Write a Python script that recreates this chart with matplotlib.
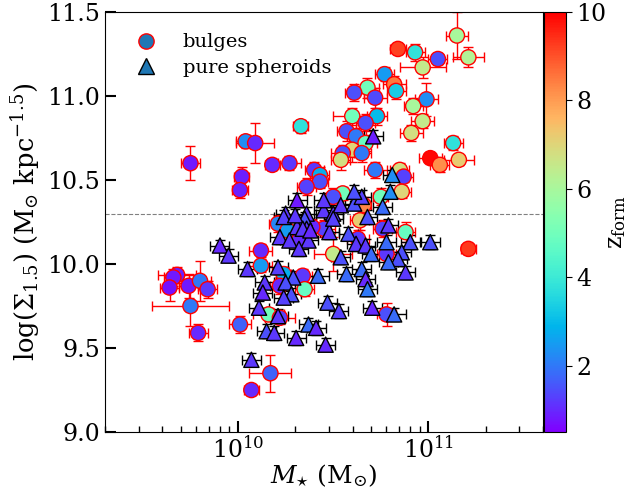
import numpy as np
import matplotlib
matplotlib.use("Agg")
import matplotlib.pyplot as plt
from matplotlib.lines import Line2D

plt.rcParams['font.family'] = ['DejaVu Serif']
plt.rcParams['mathtext.fontset'] = 'dejavuserif'

# bulges: log stellar mass, log Sigma_1.5, z_form, errors (dex)
bulge_logm = np.array([11.15, 10.84, 10.93, 11.05, 11.21, 10.97, 10.77, 10.82, 10.83, 10.68,
                       10.61, 10.72, 10.99, 10.92, 10.73, 10.60, 10.67, 10.97, 10.91, 10.57,
                       10.62, 10.67, 11.13, 10.60, 10.55, 10.65, 11.01, 11.06, 11.16, 10.72,
                       10.85, 10.87, 10.86, 10.75, 10.55, 10.54, 10.33, 10.27, 10.40, 10.43,
                       10.43, 10.36, 10.50, 9.75, 10.04, 10.09, 10.02, 10.01, 10.18, 10.66,
                       10.64, 10.76, 10.88, 11.21, 10.45, 10.39, 10.21, 10.26, 10.32, 10.63,
                       10.50, 10.78, 10.12, 10.12, 10.24, 10.34, 10.35, 10.22, 10.16, 10.22,
                       10.78, 10.01, 9.68, 9.66, 9.64, 9.74, 9.80, 9.84, 9.75, 9.79,
                       10.17, 10.07])
bulge_sig = np.array([11.36, 11.28, 11.26, 11.22, 11.23, 11.17, 11.13, 11.07, 11.03, 11.05,
                      11.02, 10.99, 10.98, 10.94, 10.88, 10.88, 10.84, 10.85, 10.78, 10.79,
                      10.76, 10.72, 10.72, 10.68, 10.66, 10.66, 10.63, 10.59, 10.62, 10.56,
                      10.56, 10.52, 10.43, 10.40, 10.42, 10.62, 10.82, 10.60, 10.56, 10.53,
                      10.49, 10.46, 10.40, 10.60, 10.73, 10.72, 10.52, 10.44, 10.59, 10.35,
                      10.26, 10.21, 10.19, 10.09, 10.21, 10.22, 10.24, 10.20, 10.14, 10.15,
                      10.06, 10.06, 10.08, 9.99, 9.94, 9.93, 9.85, 9.87, 9.70, 9.68,
                      9.70, 9.64, 9.935, 9.92, 9.86, 9.87, 9.90, 9.85, 9.75, 9.59,
                      9.35, 9.25])
bulge_z = np.array([6.0, 9.2, 3.8, 1.5, 6.2, 6.5, 2.5, 8.5, 3.3, 5.0,
                    1.5, 1.4, 2.3, 6.0, 3.0, 5.0, 1.5, 6.5, 6.8, 1.5,
                    2.0, 4.8, 3.8, 7.0, 1.5, 2.0, 9.9, 8.2, 7.2, 2.0,
                    6.8, 1.3, 7.0, 5.0, 5.0, 6.8, 3.8, 1.2, 1.2, 2.8,
                    1.5, 1.3, 1.5, 0.8, 2.3, 1.0, 0.9, 0.9, 1.0, 8.3,
                    7.2, 1.3, 4.8, 9.3, 1.3, 1.0, 2.2, 2.5, 1.0, 1.2,
                    6.5, 1.2, 1.0, 2.5, 2.8, 1.2, 4.8, 1.0, 5.0, 1.3,
                    1.5, 1.7, 0.9, 0.8, 0.7, 0.8, 2.0, 1.2, 2.0, 1.0,
                    1.7, 1.0])
bulge_dm = np.array([0.06, 0.04, 0.05, 0.05, 0.08, 0.12, 0.05, 0.06, 0.05, 0.06,
                     0.05, 0.06, 0.06, 0.05, 0.05, 0.10, 0.05, 0.06, 0.06, 0.05,
                     0.05, 0.06, 0.05, 0.05, 0.06, 0.05, 0.06, 0.05, 0.08, 0.06,
                     0.05, 0.05, 0.05, 0.04, 0.05, 0.05, 0.04, 0.06, 0.05, 0.05,
                     0.04, 0.05, 0.05, 0.05, 0.05, 0.10, 0.04, 0.04, 0.04, 0.04,
                     0.05, 0.05, 0.05, 0.04, 0.06, 0.05, 0.05, 0.05, 0.05, 0.06,
                     0.10, 0.05, 0.06, 0.06, 0.04, 0.05, 0.05, 0.05, 0.08, 0.08,
                     0.05, 0.06, 0.10, 0.05, 0.05, 0.05, 0.06, 0.05, 0.20, 0.05,
                     0.11, 0.04])
bulge_dsig = np.array([0.14, 0.03, 0.05, 0.03, 0.06, 0.06, 0.04, 0.05, 0.05, 0.06,
                       0.05, 0.06, 0.10, 0.05, 0.05, 0.05, 0.05, 0.04, 0.05, 0.06,
                       0.05, 0.05, 0.04, 0.07, 0.05, 0.05, 0.02, 0.04, 0.03, 0.05,
                       0.04, 0.03, 0.04, 0.05, 0.04, 0.06, 0.04, 0.04, 0.05, 0.05,
                       0.04, 0.05, 0.05, 0.10, 0.04, 0.12, 0.06, 0.05, 0.03, 0.05,
                       0.06, 0.05, 0.06, 0.03, 0.05, 0.05, 0.05, 0.05, 0.05, 0.05,
                       0.10, 0.03, 0.04, 0.04, 0.04, 0.04, 0.04, 0.05, 0.04, 0.04,
                       0.07, 0.05, 0.05, 0.05, 0.08, 0.07, 0.12, 0.05, 0.12, 0.05,
                       0.11, 0.03])

# pure spheroids
sph_logm = np.array([10.71, 10.81, 10.80, 10.31, 10.25, 10.36, 10.45, 10.50, 10.54, 10.61,
                     10.65, 10.76, 9.905, 9.95, 10.05, 10.21, 10.24, 10.35, 10.31, 10.36,
                     10.22, 10.27, 10.37, 10.32, 10.48, 10.50, 10.54, 10.57, 10.68, 10.58,
                     10.62, 10.67, 10.79, 10.905, 11.01, 10.78, 10.70, 10.86, 10.84, 10.79,
                     10.88, 10.65, 10.67, 10.68, 10.42, 10.29, 10.14, 10.25, 10.13, 10.28,
                     10.24, 10.11, 10.21, 10.47, 10.53, 10.705, 10.82, 10.37, 10.41, 10.46,
                     10.15, 10.19, 10.305, 10.07, 10.30, 10.34, 10.38, 10.45, 10.61])
sph_sig = np.array([10.76, 10.53, 10.43, 10.38, 10.30, 10.30, 10.32, 10.30, 10.35, 10.36,
                    10.40, 10.34, 10.11, 10.05, 9.97, 9.98, 10.28, 10.27, 10.22, 10.21,
                    10.16, 10.14, 10.14, 10.09, 10.19, 10.27, 10.04, 9.94, 10.28, 10.18,
                    10.12, 10.11, 10.23, 10.13, 10.13, 10.13, 10.06, 10.07, 10.03, 10.01,
                    9.95, 9.97, 9.91, 9.85, 9.93, 9.92, 9.89, 9.89, 9.83, 9.82,
                    9.80, 9.74, 9.69, 9.77, 9.72, 9.74, 9.70, 9.64, 9.62, 9.52,
                    9.60, 9.59, 9.56, 9.43, 10.29, 10.21, 10.20, 10.38, 10.43])
sph_z = np.array([0.9, 2.3, 2.3, 0.8, 1.2, 1.2, 1.2, 1.2, 1.2, 1.5,
                  1.3, 1.8, 1.0, 1.2, 1.2, 1.3, 1.3, 1.5, 1.2, 1.2,
                  1.2, 1.2, 1.2, 1.2, 1.2, 1.3, 1.5, 1.8, 1.5, 1.5,
                  1.2, 1.2, 1.2, 1.5, 1.5, 1.8, 1.8, 1.5, 1.5, 1.8,
                  1.2, 1.8, 1.0, 2.0, 1.8, 1.5, 1.2, 1.5, 1.0, 1.5,
                  1.3, 1.2, 1.2, 1.5, 1.3, 1.0, 1.8, 1.8, 1.0, 1.0,
                  1.5, 1.2, 1.0, 1.2, 1.2, 1.2, 1.0, 1.2, 1.5])
sph_dm = np.array([0.05, 0.05, 0.05, 0.05, 0.05, 0.05, 0.05, 0.05, 0.05, 0.05,
                   0.05, 0.05, 0.05, 0.05, 0.05, 0.05, 0.05, 0.05, 0.05, 0.05,
                   0.05, 0.05, 0.05, 0.05, 0.05, 0.05, 0.05, 0.05, 0.05, 0.05,
                   0.05, 0.05, 0.05, 0.05, 0.05, 0.05, 0.05, 0.05, 0.05, 0.05,
                   0.05, 0.05, 0.05, 0.05, 0.06, 0.05, 0.05, 0.05, 0.05, 0.05,
                   0.05, 0.05, 0.05, 0.05, 0.05, 0.05, 0.06, 0.05, 0.05, 0.05,
                   0.05, 0.05, 0.05, 0.05, 0.05, 0.05, 0.05, 0.05, 0.05])
sph_dsig = np.array([0.04, 0.03, 0.04, 0.04, 0.04, 0.04, 0.03, 0.04, 0.04, 0.04,
                     0.04, 0.04, 0.03, 0.04, 0.04, 0.04, 0.04, 0.04, 0.04, 0.04,
                     0.04, 0.04, 0.04, 0.04, 0.04, 0.04, 0.04, 0.04, 0.04, 0.04,
                     0.04, 0.04, 0.04, 0.04, 0.04, 0.04, 0.04, 0.04, 0.04, 0.04,
                     0.04, 0.04, 0.04, 0.04, 0.04, 0.04, 0.04, 0.04, 0.04, 0.04,
                     0.04, 0.04, 0.04, 0.04, 0.04, 0.04, 0.04, 0.04, 0.04, 0.04,
                     0.04, 0.04, 0.04, 0.04, 0.04, 0.04, 0.04, 0.04, 0.04])

cut_line = 10.3
zmin, zmax = 0.5, 10.0


def mass_err(logm, dex):
    m = 10 ** logm
    return np.vstack([m * (1 - 10 ** -dex), m * (10 ** dex - 1)])


fig = plt.figure(figsize=(6.27, 4.93), dpi=100)
ax = fig.add_axes([0.1675, 0.1237, 0.6985, 0.852])
cax = fig.add_axes([0.8676, 0.1237, 0.0351, 0.852])

# error bars first, markers on top
ax.errorbar(10 ** bulge_logm, bulge_sig, xerr=mass_err(bulge_logm, bulge_dm), yerr=bulge_dsig,
            fmt='none', ecolor='red', elinewidth=1.0, capsize=3.5, capthick=1.0, zorder=1)
ax.errorbar(10 ** sph_logm, sph_sig, xerr=mass_err(sph_logm, sph_dm), yerr=sph_dsig,
            fmt='none', ecolor='black', elinewidth=1.0, capsize=3.5, capthick=1.0, zorder=1)

sc = ax.scatter(10 ** bulge_logm, bulge_sig, c=bulge_z, cmap='rainbow', vmin=zmin, vmax=zmax,
                s=120, marker='o', edgecolors='red', linewidths=1.0, zorder=2)
ax.scatter(10 ** sph_logm, sph_sig, c=sph_z, cmap='rainbow', vmin=zmin, vmax=zmax,
           s=120, marker='^', edgecolors='black', linewidths=1.0, zorder=3)

ax.axhline(cut_line, color='gray', ls='--', lw=0.8, zorder=0)

ax.set_xscale('log')
ax.set_xlim(2e9, 4e11)
ax.set_ylim(9.0, 11.5)
ax.set_yticks([9.0, 9.5, 10.0, 10.5, 11.0, 11.5])
ax.tick_params(which='major', direction='in', length=8, width=1.5, labelsize=17)
ax.tick_params(which='minor', direction='in', length=4, width=1.0)
ax.tick_params(axis='x', pad=3)

ax.set_xlabel(r'$M_{\star}$ (M$_{\odot}$)', fontsize=18, labelpad=0)
ax.set_ylabel(r'log($\Sigma_{1.5}$) (M$_{\odot}$ kpc$^{-1.5}$)', fontsize=18.5)

handles = [
    Line2D([], [], ls='none', marker='o', markersize=11, markerfacecolor='#1f77b4',
           markeredgecolor='red', markeredgewidth=1.0),
    Line2D([], [], ls='none', marker='^', markersize=11, markerfacecolor='#1f77b4',
           markeredgecolor='black', markeredgewidth=1.0),
]
ax.legend(handles, ['bulges', 'pure spheroids'], loc='upper left', frameon=False,
          fontsize=14, handletextpad=0.9, borderaxespad=0.7, labelspacing=0.4)

cb = fig.colorbar(sc, cax=cax)
cb.set_ticks([2, 4, 6, 8, 10])
cb.ax.tick_params(direction='out', length=4, labelsize=17)
cb.set_label(r'$\mathrm{z_{form}}$', fontsize=17, labelpad=-1)

fig.savefig('out.png', dpi=100)
